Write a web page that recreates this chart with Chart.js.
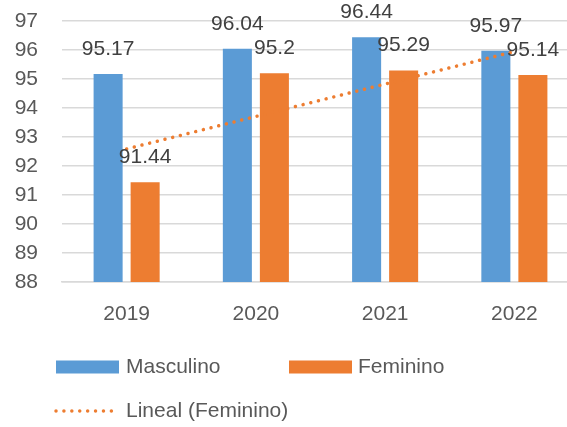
<!DOCTYPE html>
<html>
<head>
<meta charset="utf-8">
<script src="https://cdn.jsdelivr.net/npm/chart.js@4/dist/chart.umd.min.js"></script>
<style>
  html, body { margin: 0; padding: 0; background: #fff; overflow: hidden; }
  #wrap { position: relative; width: 567px; height: 427px; overflow: hidden; }
  #c { position: absolute; left: 0; top: 0; }
</style>
</head>
<body>
<div id="wrap"><canvas id="c" width="600" height="427"></canvas></div>
<script>
// Years on the category axis
const years = ['2019', '2020', '2021', '2022'];
// Percentages per sex
const masculino = [95.17, 96.04, 96.44, 95.97];
const feminino = [91.44, 95.2, 95.29, 95.14];
// Value axis range
const yMin = 88;
const yMax = 97;

const BLUE = '#5B9BD5';
const ORANGE = '#ED7D31';
const FONT = '"Liberation Sans", Arial, sans-serif';

// Least-squares linear trend of the Feminino series (x = 1..n)
function linearTrend(values) {
  const n = values.length;
  const xs = values.map((_, i) => i + 1);
  const mx = xs.reduce((a, b) => a + b, 0) / n;
  const my = values.reduce((a, b) => a + b, 0) / n;
  let sxy = 0, sxx = 0;
  xs.forEach((x, i) => { sxy += (x - mx) * (values[i] - my); sxx += (x - mx) * (x - mx); });
  const slope = sxy / sxx;
  return xs.map(x => my + slope * (x - mx));
}
const femTrend = linearTrend(feminino);

// Value labels above each bar
const barLabels = {
  id: 'barLabels',
  afterDatasetsDraw(chart) {
    const ctx = chart.ctx;
    ctx.save();
    ctx.font = '21px ' + FONT;
    ctx.fillStyle = '#404040';
    ctx.textAlign = 'center';
    ctx.textBaseline = 'middle';
    chart.data.datasets.forEach((ds, di) => {
      if (ds.type === 'line') return;
      const meta = chart.getDatasetMeta(di);
      meta.data.forEach((bar, i) => {
        ctx.fillText(String(ds.data[i]), bar.x, bar.y - 25);
      });
    });
    ctx.restore();
  }
};

// Two-row legend below the plot
const customLegend = {
  id: 'customLegend',
  afterDraw(chart) {
    const ctx = chart.ctx;
    const ds = chart.data.datasets;
    ctx.save();
    ctx.font = '21px ' + FONT;
    ctx.fillStyle = '#595959';
    ctx.textAlign = 'left';
    ctx.textBaseline = 'middle';
    const row1 = 367, row2 = 411;
    // Masculino
    ctx.fillStyle = ds[0].backgroundColor;
    ctx.fillRect(56, row1 - 6.5, 63, 13);
    ctx.fillStyle = '#595959';
    ctx.fillText(ds[0].label, 126, row1);
    // Feminino
    ctx.fillStyle = ds[1].backgroundColor;
    ctx.fillRect(289, row1 - 6.5, 63, 13);
    ctx.fillStyle = '#595959';
    ctx.fillText(ds[1].label, 358, row1);
    // Trend line sample
    ctx.strokeStyle = ds[2].borderColor;
    ctx.lineWidth = 3.5;
    ctx.lineCap = 'round';
    ctx.setLineDash([0.01, 7.9]);
    ctx.beginPath();
    ctx.moveTo(56, row2);
    ctx.lineTo(119, row2);
    ctx.stroke();
    ctx.setLineDash([]);
    ctx.fillStyle = '#595959';
    ctx.fillText(ds[2].label, 126, row2);
    ctx.restore();
  }
};

new Chart(document.getElementById('c'), {
  type: 'bar',
  data: {
    labels: years,
    datasets: [
      {
        label: 'Masculino',
        data: masculino,
        backgroundColor: BLUE,
        categoryPercentage: 0.573,
        barPercentage: 0.784,
        order: 2
      },
      {
        label: 'Feminino',
        data: feminino,
        backgroundColor: ORANGE,
        categoryPercentage: 0.573,
        barPercentage: 0.784,
        order: 2
      },
      {
        type: 'line',
        label: 'Lineal (Feminino)',
        data: femTrend,
        borderColor: ORANGE,
        borderWidth: 3.5,
        borderDash: [0.01, 7.9],
        borderCapStyle: 'round',
        pointRadius: 0,
        fill: false,
        tension: 0,
        order: 1
      }
    ]
  },
  options: {
    responsive: false,
    animation: false,
    layout: { padding: { left: 0, right: 21, top: 21, bottom: 0 } },
    plugins: {
      legend: { display: false },
      tooltip: { enabled: false }
    },
    scales: {
      x: {
        offset: true,
        grid: { display: false, drawTicks: false },
        border: { display: true, color: '#d9d9d9', width: 1.5 },
        ticks: { color: '#595959', font: { family: FONT, size: 21 }, padding: 20 },
        afterFit(scale) {
          scale.height = 145;
          scale.paddingLeft = 0;
          scale.paddingRight = 0;
        }
      },
      y: {
        min: yMin,
        max: yMax,
        grid: { color: '#d9d9d9', lineWidth: 1.5, drawTicks: false },
        border: { display: false },
        ticks: { stepSize: 1, autoSkip: false, color: '#595959', font: { family: FONT, size: 21 }, padding: 24 },
        afterFit(scale) {
          scale.width = 62;
          scale.paddingTop = 0;
          scale.paddingBottom = 0;
        }
      }
    }
  },
  plugins: [barLabels, customLegend]
});
</script>
</body>
</html>
